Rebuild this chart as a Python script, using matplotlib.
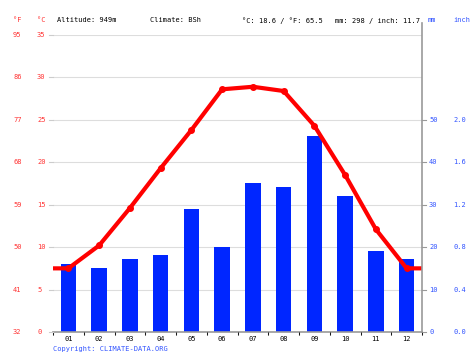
import numpy as np
import matplotlib
matplotlib.use("Agg")
import matplotlib.pyplot as plt
import matplotlib.transforms as mtrans
from matplotlib.lines import Line2D

# climate data
months = ["01", "02", "03", "04", "05", "06", "07", "08", "09", "10", "11", "12"]
temp_c = [7.5, 10.2, 14.6, 19.3, 23.8, 28.6, 28.9, 28.4, 24.3, 18.5, 12.1, 7.5]
precip_mm = [16.0, 15.1, 17.2, 18.2, 29.0, 20.0, 35.1, 34.2, 46.2, 32.1, 19.1, 17.2]

c_ticks = [0, 5, 10, 15, 20, 25, 30, 35]
f_ticks = [32, 41, 50, 59, 68, 77, 86, 95]
mm_ticks = [0, 10, 20, 30, 40, 50]
inch_ticks = ["0.0", "0.4", "0.8", "1.2", "1.6", "2.0"]

header = [("°F", 13, "#ff3333"), ("°C", 37, "#ff3333"),
          ("Altitude: 949m", 57, "black"), ("Climate: BSh", 150, "black"),
          ("°C: 18.6 / °F: 65.5", 242, "black"),
          ("mm: 298 / inch: 11.7", 335, "black"),
          ("mm", 428, "#3355ff"), ("inch", 453, "#3355ff")]

W, H = 474, 355
red = "#ff0000"
blue = "#0026ff"
lblue = "#3355ff"
lred = "#ff3333"
grey = "#999999"
font = "DejaVu Sans Mono"
fs = 5

fig = plt.figure(figsize=(W / 100, H / 100), dpi=100)
x0, x1, y0, y1 = 53, 422, 332, 35
rect = [x0 / W, 1 - y0 / H, (x1 - x0) / W, (y0 - y1) / H]

ax2 = fig.add_axes(rect)  # precipitation, drawn underneath
ax = fig.add_axes(rect, sharex=ax2)  # temperature on top
ax.patch.set_visible(False)

x = np.arange(1, 13)
ax2.bar(x, precip_mm, width=0.5, color=blue, zorder=2)
ax2.set_ylim(0, 70)
ax2.set_xlim(0.5, 12.5)
ax2.set_yticks(np.arange(0, 71, 10))
ax2.yaxis.grid(True, color="#dddddd", lw=0.8, zorder=0)
ax2.set_axisbelow(True)
ax2.tick_params(axis="y", length=0, labelleft=False)

xl = ax2.get_xlim()
lx = np.r_[xl[0], x, xl[1]]
ly = np.r_[temp_c[0], temp_c, temp_c[-1]]
ax.plot(lx, ly, color=red, lw=3, solid_capstyle="butt")
ax.plot(x, temp_c, "o", color=red, ms=4)
ax.set_ylim(0, 35)
ax.set_yticks([])

for a in (ax, ax2):
    for s in a.spines.values():
        s.set_visible(False)
ax2.spines["bottom"].set_visible(True)
ax2.spines["bottom"].set_color(grey)
ax2.spines["bottom"].set_linewidth(1.2)

ax2.set_xticks(x)
ax2.set_xticklabels(months, fontsize=fs, family=font)
ax2.set_xticks(np.arange(0.5, 13, 1), minor=True)
ax2.tick_params(axis="x", which="major", length=0, pad=3)
ax2.tick_params(axis="x", which="minor", length=2.5, color=grey, width=0.8)
ax.tick_params(axis="x", length=0, labelbottom=False)

# left labels (°F and °C)
tr = ax.get_yaxis_transform()
trl = mtrans.blended_transform_factory(fig.transFigure, ax.transData)
for c, f in zip(c_ticks, f_ticks):
    ax.text(37 / W, c, str(c), transform=trl, fontsize=fs, family=font,
            color=lred, va="center", ha="left")
    ax.text(13 / W, c, str(f), transform=trl, fontsize=fs, family=font,
            color=lred, va="center", ha="left")
    ax.plot([0, -0.012], [c, c], color="#cccccc", lw=0.8, transform=tr, clip_on=False)

# right labels (mm and inch)
tr2 = mtrans.blended_transform_factory(fig.transFigure, ax2.transData)
for m, i in zip(mm_ticks, inch_ticks):
    ax2.text(429 / W, m, str(m), transform=tr2, fontsize=fs, family=font,
             color=lblue, va="center", ha="left")
    ax2.text(453 / W, m, i, transform=tr2, fontsize=fs, family=font,
             color=lblue, va="center", ha="left")
    ax2.plot([1, 1.01], [m, m], color=grey, lw=0.8,
             transform=ax2.get_yaxis_transform(), clip_on=False)

# right axis line
fig.add_artist(Line2D([x1 / W, x1 / W], [1 - 332 / H, 1 - 23 / H], color=grey, lw=1.2))

for txt, px, col in header:
    fig.text(px / W, 1 - 20.5 / H, txt, fontsize=fs, family=font, color=col,
             va="center", ha="left")

fig.text(53 / W, 1 - 349 / H, "Copyright: CLIMATE-DATA.ORG", fontsize=fs,
         family=font, color=lblue, va="center", ha="left")

fig.savefig("out.png", dpi=100)
